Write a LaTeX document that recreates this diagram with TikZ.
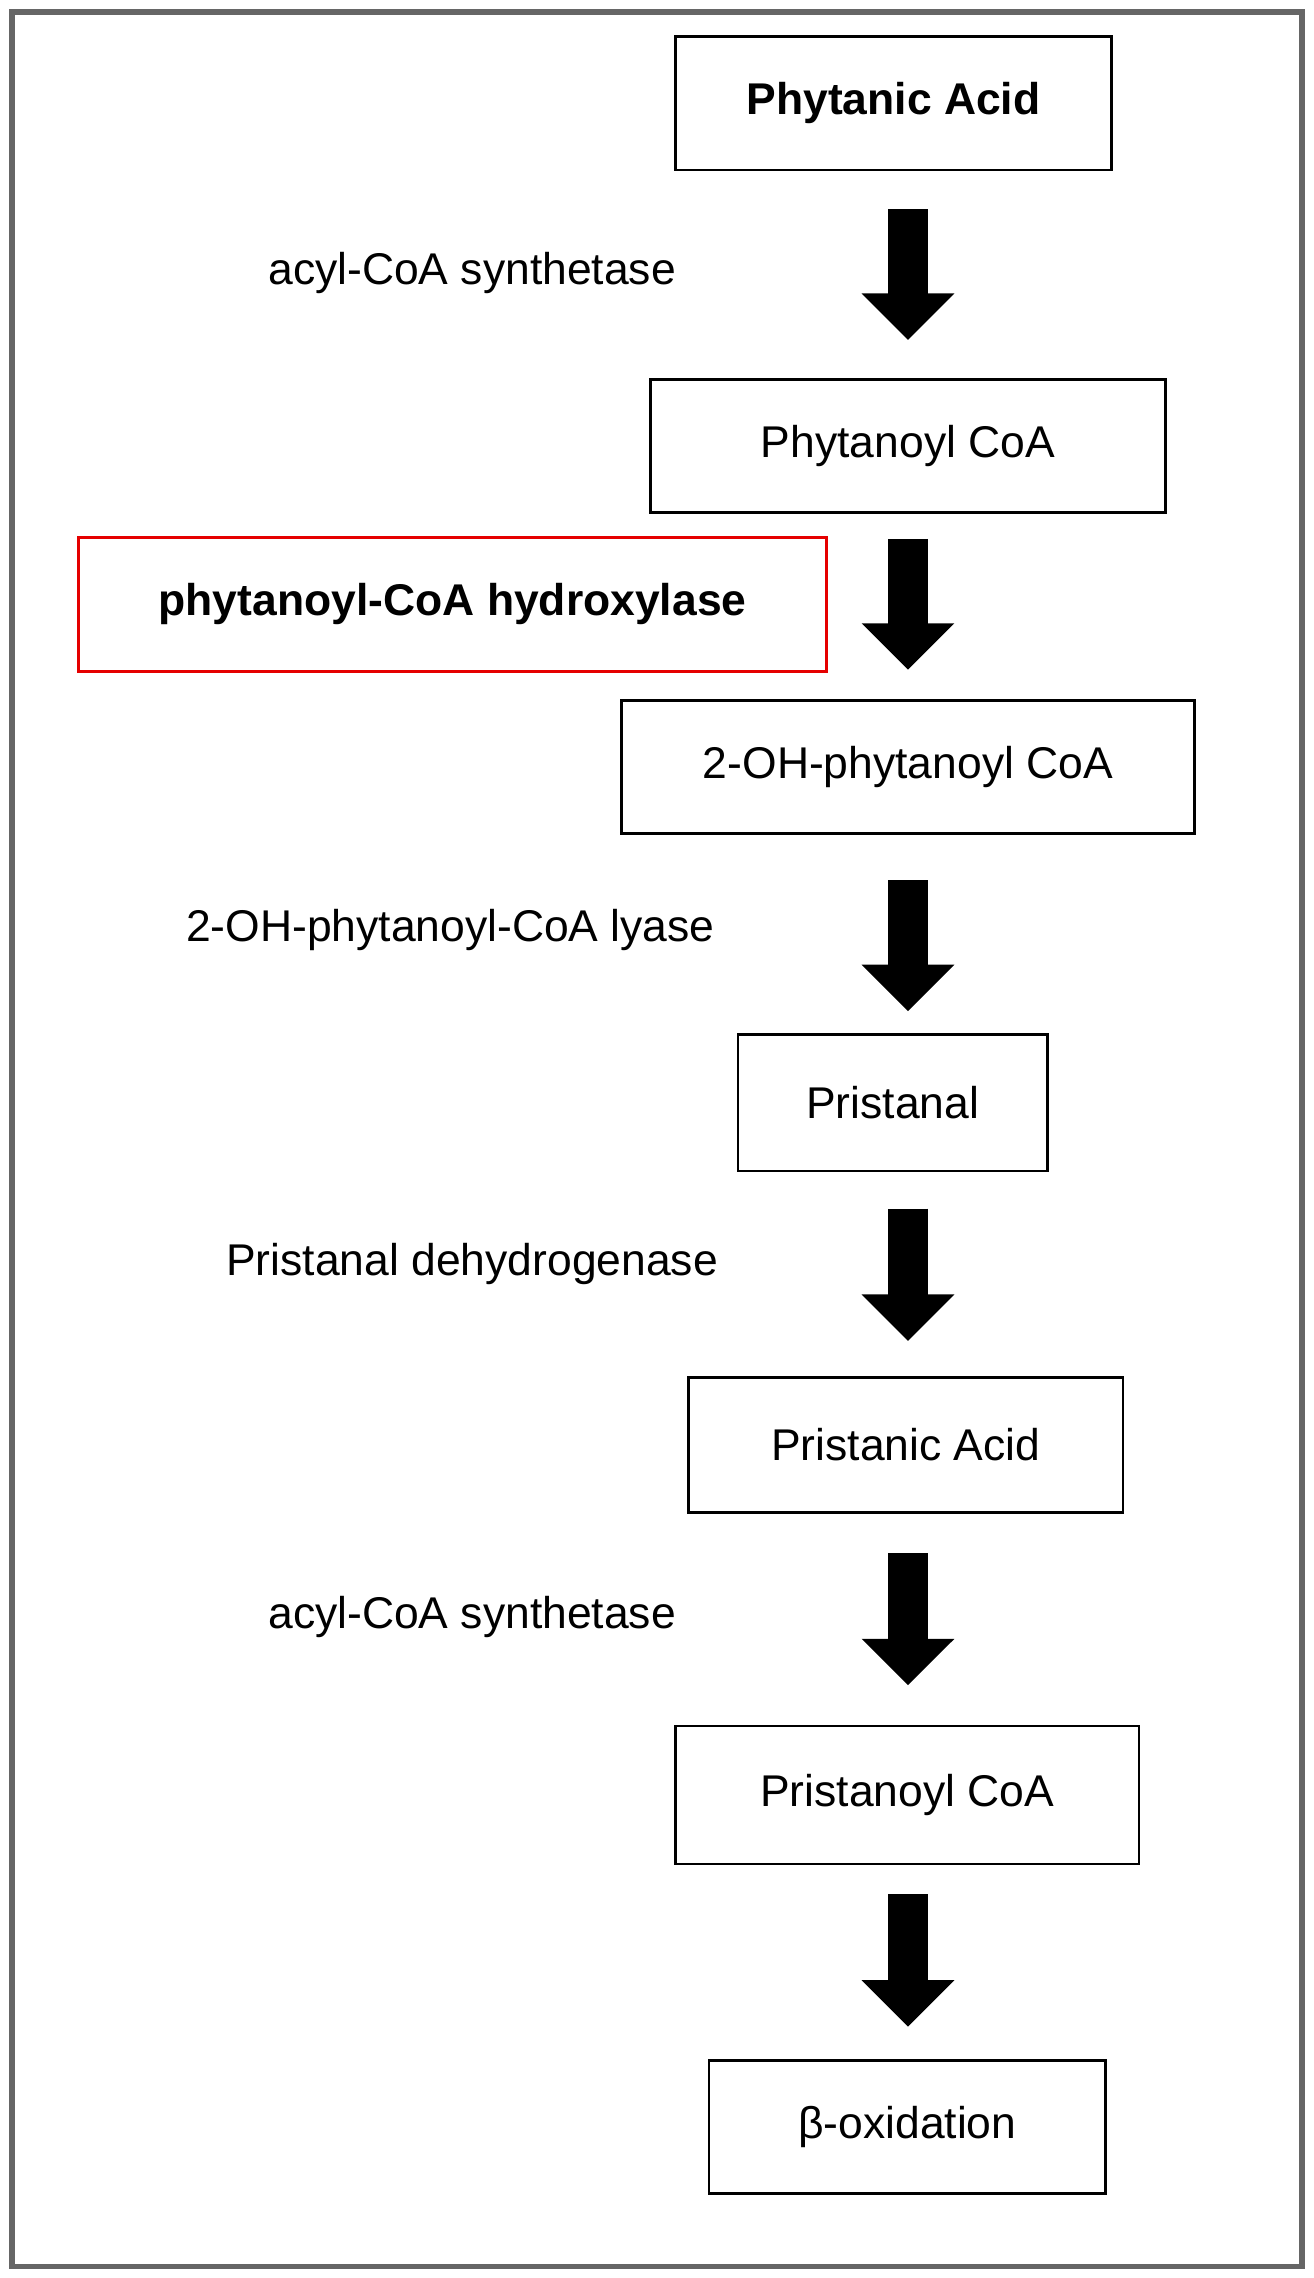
\documentclass[tikz,border=0pt]{standalone}
\usepackage{fontspec}
\setmainfont{Liberation Sans}
\usetikzlibrary{arrows.meta}
\begin{document}
\begin{tikzpicture}[x=0.5pt,y=-0.5pt,
  box/.style={draw=black,line width=1pt,inner sep=0pt,font=\fontsize{15.3}{18}\selectfont},
  lab/.style={inner sep=0pt,font=\fontsize{15.3}{18}\selectfont},
  blk/.style={line width=14pt,-{Triangle[width=31pt,length=16pt]}}]
\useasboundingbox (0,0) rectangle (904,1568);
\draw[draw=black!60,line width=2pt] (8,8) rectangle (896,1560);
\coordinate (ax) at (625,0);
\node[box,minimum width=150pt,minimum height=46pt,font=\fontsize{15.3}{18}\selectfont\bfseries] (n1) at (615,71) {Phytanic Acid};
\node[box,minimum width=177pt,minimum height=46pt] (n2) at (625,307) {Phytanoyl CoA};
\node[box,minimum width=197pt,minimum height=46pt] (n3) at (625,528) {2-OH-phytanoyl CoA};
\node[box,minimum width=106.5pt,minimum height=47pt] (n4) at (614.5,759) {Pristanal};
\node[box,minimum width=149.5pt,minimum height=46.5pt] (n5) at (623.5,994.5) {Pristanic Acid};
\node[box,minimum width=159.5pt,minimum height=47.5pt] (n6) at (624.5,1235.5) {Pristanoyl CoA};
\node[box,minimum width=136.5pt,minimum height=46pt] (n7) at (624.5,1464) {β-oxidation};
\node[box,draw=red!90!black,minimum width=257.5pt,minimum height=46pt,font=\fontsize{15.3}{18}\selectfont\bfseries] (r) at (311.5,416) {phytanoyl-CoA hydroxylase};
\node[lab] (l1) at (325,188) {acyl-CoA synthetase};
\node[lab] (l3) at (310,640) {2-OH-phytanoyl-CoA lyase};
\node[lab] (l4) at (325,870) {Pristanal dehydrogenase};
\node[lab] (l5) at (325,1113) {acyl-CoA synthetase};
\draw[blk,shorten <=13pt,shorten >=13pt] (n1.south -| ax) -- (n2.north -| ax);
\draw[blk,shorten <=8.5pt,shorten >=10pt] (n2.south -| ax) -- (n3.north -| ax);
\draw[blk,shorten <=15.5pt,shorten >=7.5pt] (n3.south -| ax) -- (n4.north -| ax);
\draw[blk,shorten <=12.5pt,shorten >=12pt] (n4.south -| ax) -- (n5.north -| ax);
\draw[blk,shorten <=13.5pt,shorten >=13.5pt] (n5.south -| ax) -- (n6.north -| ax);
\draw[blk,shorten <=10pt,shorten >=11pt] (n6.south -| ax) -- (n7.north -| ax);
\end{tikzpicture}
\end{document}
